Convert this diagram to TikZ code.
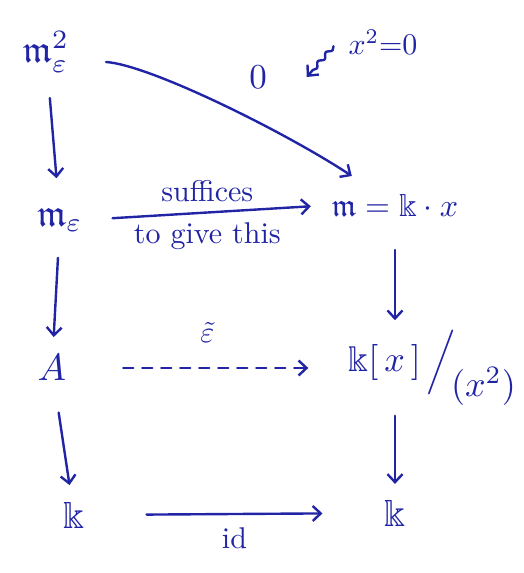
\documentclass[tikz,border=0pt]{standalone}
\usepackage{amssymb}
\usetikzlibrary{arrows.meta,decorations.pathmorphing}
\definecolor{ink}{RGB}{32,36,165}
\begin{document}
\begin{tikzpicture}[x=1pt,y=-1pt,
  every node/.style={text=ink, inner sep=0pt, outer sep=0pt},
  obj/.style={scale=3.8},
  lbl/.style={scale=3},
  arr/.style={draw=ink, line width=2.4pt, line cap=round, line join=round, -{Straight Barb[length=8pt,width=15pt]}},
]
\useasboundingbox (0,0) rectangle (524,573);
% objects
\node[obj] (me2) at (46,52) {$\mathfrak{m}_{\varepsilon}^{2}$};
\node[obj] (me) at (60,220) {$\mathfrak{m}_{\varepsilon}$};
\node[obj] (A) at (52,368) {$A$};
\node[obj] (kl) at (74,515) {$\Bbbk$};
\node[scale=3.2] (mk) at (395,205) {$\mathfrak{m} = \Bbbk\cdot x$};
\node[scale=3.6] (kx) at (433,368) {$\Bbbk[\,x\,]\,\Big/_{\!\textstyle(x^2)}$};
\node[obj] (kr) at (395,513) {$\Bbbk$};
\node[scale=3.5] (zero) at (258,77) {$0$};
\node[lbl] (x2) at (383,42) {$x^2{=}0$};
% vertical arrows
\draw[arr, shorten <=26pt, shorten >=30pt] (me2) -- (me);
\draw[arr, shorten <=26pt, shorten >=18pt] (me) -- (A);
\draw[arr, shorten <=32pt, shorten >=17pt] (A) -- (kl);
\draw[arr, shorten <=34pt, shorten >=10pt] (mk.south) -- (mk.south |- kx.north);
\draw[arr, shorten <=10pt, shorten >=16pt] (kr.north |- kx.south) -- (kr.north);
% horizontal arrows
\draw[arr, shorten <=30pt, shorten >=21pt] (me.east) -- node[lbl, yshift=7pt] {suffices} node[lbl, yshift=-8pt] {to give this} (mk.west);
\draw[arr, dash pattern=on 10pt off 9pt, shorten <=57pt, shorten >=40pt] (A.east) -- node[lbl, yshift=12pt] {$\tilde{\varepsilon}$} (kx.west);
\draw[arr, shorten <=62pt, shorten >=62pt] (kl.east) -- node[lbl, yshift=-8pt] {id} (kr.west);
% curved arrow
\draw[arr] ([xshift=37pt,yshift=-10pt]me2.east) .. controls (150,65) and (285,132) .. ([xshift=20pt,yshift=18pt]mk.north west);
% squiggle
\draw[arr, decorate, decoration={snake, amplitude=2pt, segment length=12pt, post length=6pt}] ([xshift=-15pt,yshift=8pt]x2.south west) -- ([xshift=40pt,yshift=0pt]zero.east);
\end{tikzpicture}
\end{document}
